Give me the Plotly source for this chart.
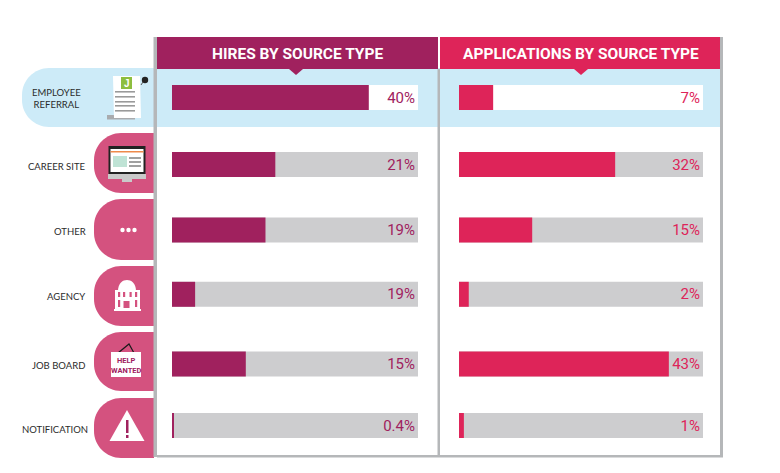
import re
import plotly.graph_objects as go

categories = ["EMPLOYEE<br>REFERRAL", "CAREER SITE", "OTHER", "AGENCY", "JOB BOARD", "NOTIFICATION"]
hires_values = [40, 21, 19, 4.7, 15, 0.4]
hires_labels = ["40%", "21%", "19%", "19%", "15%", "0.4%"]
apps_values = [7, 32, 15, 2, 43, 1]
apps_labels = ["7%", "32%", "15%", "2%", "43%", "1%"]
track_values = [50, 50, 50, 50, 50, 50]
titles = ["HIRES BY SOURCE TYPE", "APPLICATIONS BY SOURCE TYPE"]

W, H = 780, 473
MAROON, CRIMSON, PINK = "#A0215E", "#DE2459", "#D4527F"
BLUE, TRACK, RULE = "#CDEBF8", "#CDCDCF", "#B5B7B9"
FONT = "Roboto"
LABEL_FONT = "Lato"

ROW0, ROW_H, BAR_H = 97.5, 65.6, 25
row_shift = [0, 1.5, 1.2, 0, 4, 0]
offsets = [(-BAR_H / 2 + s) / ROW_H for s in row_shift]
bar_w = BAR_H / ROW_H
yrange = [(H - ROW0) / ROW_H, -ROW0 / ROW_H]


def P(s):
    out, n = [], 0
    for t in s.split():
        if re.fullmatch(r"[A-Za-z]", t):
            out.append(t)
        else:
            v = float(t)
            out.append(f"{v / W:.5f}" if n % 2 == 0 else f"{1 - v / H:.5f}")
            n += 1
    return " ".join(out)


def path(s, fill, layer="below", line=None, lw=0):
    return dict(type="path", xref="paper", yref="paper", path=P(s), fillcolor=fill, layer=layer,
                line=dict(width=lw, color=line or fill))


def rect(x0, y0, x1, y1, fill, layer="below"):
    return path(f"M {x0} {y0} L {x1} {y0} L {x1} {y1} L {x0} {y1} Z", fill, layer)


def tab(x0, y0, x1, y1, r, fill):
    k = r * 0.45
    return path(f"M {x1} {y0} L {x0+r} {y0} C {x0+k} {y0} {x0} {y0+k} {x0} {y0+r} "
                f"L {x0} {y1-r} C {x0} {y1-k} {x0+k} {y1} {x0+r} {y1} L {x1} {y1} Z", fill)


def dot(cx, cy, r, fill):
    return dict(type="circle", xref="paper", yref="paper", x0=(cx - r) / W, x1=(cx + r) / W,
                y0=1 - (cy + r) / H, y1=1 - (cy - r) / H, fillcolor=fill, line_width=0, layer="above")


shapes = [
    tab(22, 68, 720, 127, 27, BLUE),
    tab(94, 133, 154, 193, 27, PINK),
    tab(94, 199, 154, 260, 27, PINK),
    tab(94, 266, 154, 326, 27, PINK),
    tab(94, 332, 154, 391, 27, PINK),
    tab(94, 398, 154, 458, 27, PINK),
    rect(157, 37, 438, 69, MAROON),
    rect(440, 37, 720, 69, CRIMSON),
    path("M 289 69 L 303 69 L 296 75 Z", MAROON),
    path("M 574 69 L 588 69 L 581 75 Z", CRIMSON),
    rect(153.5, 37, 157, 457, RULE),
    rect(437.5, 69, 440, 457, RULE),
    rect(720, 37, 723, 457, RULE),
    rect(157, 455, 723, 457.5, RULE),
]
A = "above"
# employee referral document
shapes += [
    rect(107, 115, 135, 119.5, "#A9ABAE", A),
    path("M 113 76 L 140 76 L 141 118 L 114 118 Z", "#FFFFFF", A),
    rect(121, 77, 132, 89, "#8DBE3F", A),
]
shapes += [rect(115, y, 135, y + 1.6, "#9A9A9A", A) for y in (91, 96, 101, 105, 110)]
shapes += [dot(145, 80, 3.2, "#222222"), path("M 141 85 L 143 82", "rgba(0,0,0,0)", A, "#555555", 1)]
# career site monitor
shapes += [
    rect(108.5, 146, 145.5, 174, "#222222", A),
    rect(110.5, 149, 143.5, 172, "#FFFFFF", A),
    rect(110.5, 151, 143.5, 152.5, "#EE8A4A", A),
    rect(113, 156, 127, 167, "#BFE3D5", A),
    rect(129, 157, 141, 159, "#A0A0A0", A),
    rect(129, 161, 141, 163, "#A0A0A0", A),
    rect(129, 165, 141, 167, "#A0A0A0", A),
    rect(108, 174, 146, 179, "#C9C9C9", A),
    rect(122, 179, 132, 182, "#C9C9C9", A),
]
# other dots
shapes += [dot(x, 230, 2.2, "#FFFFFF") for x in (122.5, 128.5, 134.5)]
# agency building
shapes += [
    path("M 118 291 C 118 283 123 280 127 280 C 131 280 136 283 136 291 Z", "#FFFFFF", A),
    rect(115, 290, 140, 310, "#FFFFFF", A),
    rect(114, 309, 141, 311, "#FFFFFF", A),
]
shapes += [rect(x, 292, x + 2.2, 297, PINK, A) for x in (118, 123, 129.5, 135)]
shapes += [rect(x, 300, x + 2.2, 307, PINK, A) for x in (118, 135)]
shapes += [rect(123.5, 301, 129.5, 308, PINK, A)]
# help wanted sign
shapes += [
    path("M 118 353 L 129 344 L 134 353", "rgba(0,0,0,0)", A, "#1A1A1A", 1.2),
    rect(111, 352, 141, 377, "#FFFFFF", A),
]
# notification triangle
shapes += [
    path("M 127 410 L 144.5 441 L 109.5 441 Z", "#FFFFFF", A),
    rect(126, 420, 128.5, 433, MAROON, A),
    rect(126, 435, 128.5, 438, MAROON, A),
]


def bar(values, color, xaxis, text=None, text_color=None):
    kw = {}
    if text:
        kw = dict(text=text, textposition="inside", insidetextanchor="end", textangle=0,
                  constraintext="none", textfont=dict(family=FONT, size=15, color=text_color))
    return go.Bar(y=categories, x=values, orientation="h", marker=dict(color=color, line_width=0),
                  width=bar_w, offset=offsets, xaxis=xaxis, yaxis="y", showlegend=False,
                  hoverinfo="skip", cliponaxis=False, **kw)


track_h = [TRACK] * 6
track_h[0] = "#FFFFFF"
fig = go.Figure([
    bar(track_values, track_h, "x", hires_labels, MAROON),
    bar(hires_values, MAROON, "x"),
    bar(track_values, track_h, "x2", apps_labels, CRIMSON),
    bar(apps_values, CRIMSON, "x2"),
])

annotations = []
for t, xc in zip(titles, (297.5, 581)):
    annotations.append(dict(text=t, x=xc / W, y=1 - 53.5 / H, xref="paper", yref="paper", showarrow=False,
                            xanchor="center", yanchor="middle",
                            font=dict(family=FONT, size=15.5, color="#FFFFFF", weight="bold")))
label_right = [83, 87.5, 87.5, 86.5, 86.5, 89.5]
label_drop = [1, 3, 2.5, 2, 6, 3.5]
for c, s, xr in zip(categories, label_drop, label_right):
    annotations.append(dict(text=c, x=xr / W, y=c, xref="paper", yref="y", yshift=-s, showarrow=False,
                            xanchor="right", yanchor="middle", align="center",
                            font=dict(family=LABEL_FONT, size=9.5, color="#2B2B2B")))
annotations += [
    dict(text="J", x=126.5 / W, y=1 - 83 / H, xref="paper", yref="paper", showarrow=False,
         xanchor="center", yanchor="middle",
         font=dict(family="Liberation Sans", size=10, color="#FFFFFF", weight="bold")),
    dict(text="HELP<br>WANTED", x=126 / W, y=1 - 365 / H, xref="paper", yref="paper", showarrow=False,
         xanchor="center", yanchor="middle",
         font=dict(family=FONT, size=7.5, color=MAROON, weight="bold"), align="center"),
]

fig.update_layout(
    width=W, height=H, margin=dict(l=0, r=0, t=0, b=0), autosize=False,
    paper_bgcolor="#FFFFFF", plot_bgcolor="rgba(0,0,0,0)", barmode="overlay",
    xaxis=dict(domain=[172 / W, 418 / W], range=[0, 50], visible=False, anchor="y"),
    xaxis2=dict(domain=[459 / W, 703 / W], range=[0, 50], visible=False, anchor="y"),
    yaxis=dict(domain=[0, 1], type="category", categoryorder="array", categoryarray=categories,
               range=yrange, visible=False),
    shapes=shapes, annotations=annotations,
)
fig.write_html("out.html", config={"displayModeBar": False},
               post_script="document.body.style.margin='0';document.body.style.overflow='hidden';")
